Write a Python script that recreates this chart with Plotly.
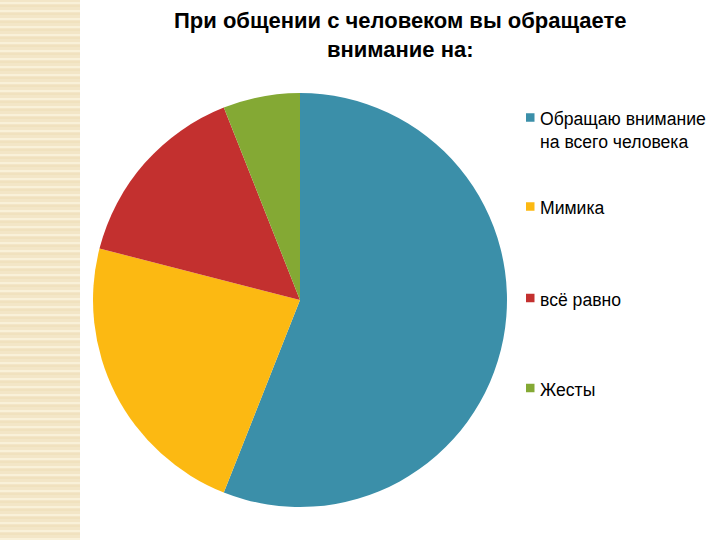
import plotly.graph_objects as go

# ---- data ----
title_lines = ["При общении с человеком вы обращаете", "внимание на:"]
categories = ["Обращаю внимание<br>на всего человека", "Мимика", "всё равно", "Жесты"]
values = [56, 23, 15, 6]
colors = ["#3B8FA9", "#FCB912", "#C3302F", "#84A934"]

W, H = 720, 540
cx, cy, r = 300, 300, 207
FONT = "Liberation Sans, Arial, sans-serif"

fig = go.Figure()
fig.add_trace(go.Pie(
    labels=categories,
    values=values,
    sort=False,
    direction="clockwise",
    rotation=0,
    marker=dict(colors=colors, line=dict(width=0)),
    textinfo="none",
    hoverinfo="label+value",
    showlegend=False,
    domain=dict(x=[(cx - r) / W, (cx + r) / W], y=[(H - cy - r) / H, (H - cy + r) / H]),
))

shapes = []
# decorative textured strip on the left
shapes.append(dict(type="rect", xref="paper", yref="paper", x0=0, x1=80 / W, y0=0, y1=1,
                   fillcolor="#F3E6C7", line=dict(width=0), layer="below"))
for k in range(0, H, 8):
    shapes.append(dict(type="line", xref="paper", yref="paper", x0=0, x1=80 / W,
                       y0=1 - (k + 3) / H, y1=1 - (k + 3) / H,
                       line=dict(color="#FBF4DF", width=1.5), layer="below"))
    shapes.append(dict(type="line", xref="paper", yref="paper", x0=0, x1=80 / W,
                       y0=1 - (k + 6) / H, y1=1 - (k + 6) / H,
                       line=dict(color="#EEDDB6", width=1), layer="below"))

annotations = []
for txt, ty in zip(title_lines, [21, 50]):
    annotations.append(dict(text="<b>" + txt + "</b>", x=400 / W, y=1 - ty / H,
                            xref="paper", yref="paper", showarrow=False,
                            xanchor="center", yanchor="middle",
                            font=dict(family=FONT, size=22, color="#000000")))

# legend built from categories / colors
legend_y = [117.5, 206.5, 298, 388]
for lab, col, ly in zip(categories, colors, legend_y):
    shapes.append(dict(type="rect", xref="paper", yref="paper",
                       x0=526 / W, x1=534.5 / W, y0=1 - (ly + 4.25) / H, y1=1 - (ly - 4.25) / H,
                       fillcolor=col, line=dict(width=0)))
    annotations.append(dict(text=lab, x=538 / W, y=1 - (ly - 10.5) / H, xref="paper", yref="paper",
                            showarrow=False, xanchor="left", yanchor="top", align="left",
                            font=dict(family=FONT, size=17.6, color="#000000")))

fig.update_layout(
    width=W, height=H,
    margin=dict(l=0, r=0, t=0, b=0),
    paper_bgcolor="#FFFFFF",
    plot_bgcolor="#FFFFFF",
    shapes=shapes,
    annotations=annotations,
    showlegend=False,
)

fig.write_html("out.html", config={"displayModeBar": False},
               post_script="document.body.style.margin='0';document.body.style.overflow='hidden';")
